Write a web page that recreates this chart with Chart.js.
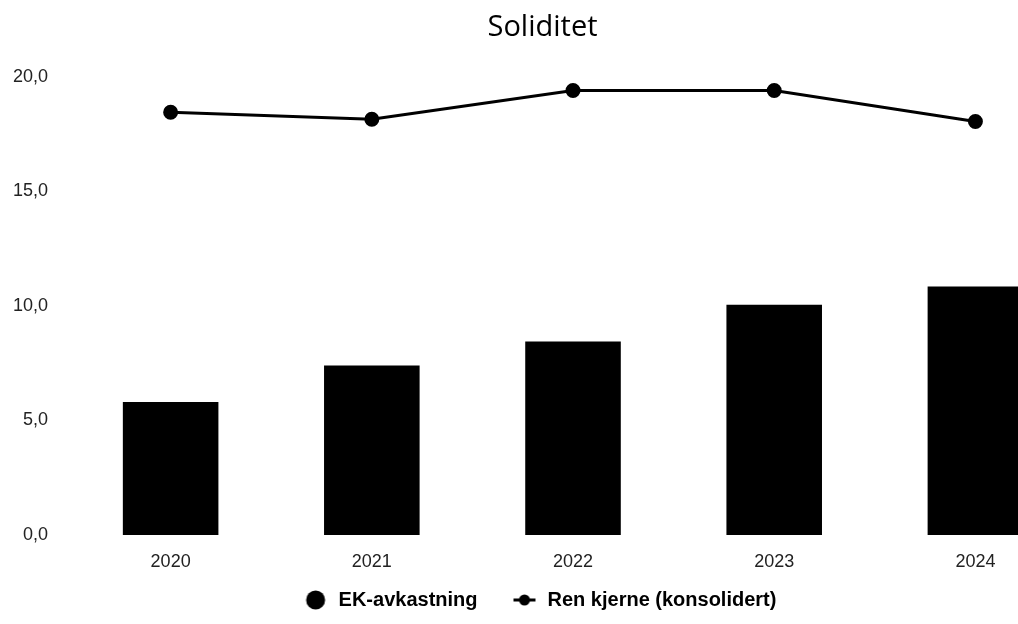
<!DOCTYPE html>
<html>
<head>
<meta charset="utf-8">
<script src="https://cdn.jsdelivr.net/npm/chart.js@4.4.1/dist/chart.umd.min.js"></script>
<style>
  html, body { margin: 0; padding: 0; background: #fff; overflow: hidden; }
  #wrap { width: 1085px; height: 624px; }
</style>
</head>
<body>
<div id="wrap"><canvas id="mychart"></canvas></div>
<script>
// data
const years = ['2020', '2021', '2022', '2023', '2024'];
const ekAvkastning = [5.8, 7.4, 8.45, 10.05, 10.85];
const renKjerne = [18.45, 18.15, 19.4, 19.4, 18.05];
const yTicks = [0, 5, 10, 15, 20];

// legend markers, image is centred on the legend box, marker sits 3px left of that
function markerCircle() {
  let c = document.createElement('canvas');
  c.width = 40; c.height = 20;
  let g = c.getContext('2d');
  g.fillStyle = '#000';
  g.beginPath(); g.arc(17, 10, 9.5, 0, Math.PI * 2); g.fill();
  return c;
}
function markerLine() {
  let c = document.createElement('canvas');
  c.width = 40; c.height = 12;
  let g = c.getContext('2d');
  g.fillStyle = '#000';
  g.fillRect(6, 4.5, 22, 3);
  g.beginPath(); g.arc(17, 6, 5.5, 0, Math.PI * 2); g.fill();
  return c;
}
const legendIcons = [markerCircle(), markerLine()];

// x axis box is squeezed (afterFit), so widen its label clip again
const xLabelRoom = {
  id: 'xLabelRoom',
  afterLayout(chart) {
    let sx = chart.scales.x;
    sx.bottom = sx.top + 45;
  }
};

const ctx = document.getElementById('mychart');
const myChart = new Chart(ctx, {
  data: {
    labels: years,
    datasets: [
      {
        type: 'line',
        label: 'Ren kjerne (konsolidert)',
        data: renKjerne,
        borderColor: '#000',
        backgroundColor: '#000',
        borderWidth: 3,
        pointRadius: 6,
        pointHoverRadius: 6,
        tension: 0,
        order: 0
      },
      {
        type: 'bar',
        label: 'EK-avkastning',
        data: ekAvkastning,
        backgroundColor: '#000',
        categoryPercentage: 1,
        barPercentage: 0.475,
        order: 1
      }
    ]
  },
  options: {
    responsive: true,
    maintainAspectRatio: false,
    animation: false,
    layout: { padding: { left: -9, right: -9, top: 0, bottom: 4 } },
    scales: {
      x: {
        grid: { display: false, drawTicks: false },
        border: { display: false },
        ticks: { color: '#222', padding: 16, font: { family: 'Liberation Sans', size: 18 } },
        // legend padding already leaves room for the labels
        afterFit: (scale) => { scale.height = 15; }
      },
      y: {
        min: 0,
        max: 20,
        afterBuildTicks: (axis) => { axis.ticks = yTicks.map(v => ({ value: v })); },
        grid: { display: false, drawTicks: false },
        border: { display: false },
        ticks: {
          color: '#222',
          padding: 22,
          font: { family: 'Liberation Sans', size: 18 },
          callback: (v) => v.toFixed(1).replace('.', ',')
        }
      }
    },
    plugins: {
      title: {
        display: true,
        text: 'Soliditet',
        color: '#000',
        font: { family: 'Open Sans', size: 29, weight: 'normal' },
        padding: { top: 10, bottom: 32 }
      },
      legend: {
        position: 'bottom',
        labels: {
          usePointStyle: true,
          color: '#000',
          padding: 40,
          font: { family: 'Liberation Sans', size: 20, weight: 'bold' },
          generateLabels: (chart) => {
            let items = Chart.defaults.plugins.legend.labels.generateLabels(chart);
            items.sort((a, b) => b.datasetIndex - a.datasetIndex);
            items.forEach(it => { it.pointStyle = legendIcons[it.datasetIndex === 1 ? 0 : 1]; });
            return items;
          }
        }
      },
      tooltip: { enabled: false }
    }
  },
  plugins: [xLabelRoom]
});
</script>
</body>
</html>
